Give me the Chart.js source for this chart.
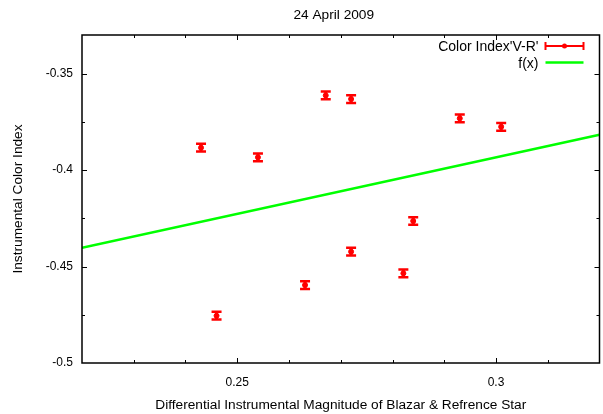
<!DOCTYPE html>
<html>
<head>
<meta charset="utf-8">
<script src="https://cdn.jsdelivr.net/npm/chart.js@4"></script>
<style>
  html, body { margin: 0; padding: 0; background: #fff; }
</style>
</head>
<body>
<canvas id="colorChart" width="603" height="414"></canvas>
<script>
const magnitude = [0.243, 0.254, 0.246, 0.2631, 0.2671, 0.272, 0.272, 0.2821, 0.284, 0.293, 0.301];
const colorIndex = [-0.3884, -0.3934, -0.4755, -0.4596, -0.3613, -0.3632, -0.4423, -0.4535, -0.4264, -0.3732, -0.3776];
const colorErr = [0.002, 0.002, 0.002, 0.002, 0.002, 0.002, 0.002, 0.002, 0.002, 0.002, 0.002];
const fitX = [0.22, 0.32];
const fitY = [-0.4403, -0.3817];
const legendLabels = ["Color Index'V-R'", 'f(x)'];
const chartTitle = '24 April 2009';

const FONT = '"Liberation Sans", Arial, sans-serif';
const ctx = document.getElementById('colorChart').getContext('2d');

function isMajor(v) {
    return Math.round(v * 1000) % 50 === 0;
}

// error bars in gnuplot style
const errorBars = {
    id: 'errorBars',
    afterDatasetsDraw(chart) {
        const {ctx, scales: {x, y}} = chart;
        ctx.save();
        ctx.strokeStyle = '#ff0000';
        colorIndex.forEach((v, i) => {
            const px = x.getPixelForValue(magnitude[i]);
            const top = y.getPixelForValue(v + colorErr[i]);
            const bot = y.getPixelForValue(v - colorErr[i]);
            ctx.lineWidth = 3;
            ctx.beginPath();
            ctx.moveTo(px, top);
            ctx.lineTo(px, bot);
            ctx.stroke();
            ctx.lineWidth = 2.5;
            ctx.beginPath();
            ctx.moveTo(px - 5, top);
            ctx.lineTo(px + 5, top);
            ctx.moveTo(px - 5, bot);
            ctx.lineTo(px + 5, bot);
            ctx.stroke();
        });
        ctx.restore();
    }
};

// border, inward ticks, title and key
const frame = {
    id: 'frame',
    afterDraw(chart) {
        const {ctx, chartArea: a, scales: {x, y}} = chart;
        ctx.save();
        ctx.strokeStyle = '#000';
        ctx.lineWidth = 1.5;
        ctx.strokeRect(a.left, a.top, a.right - a.left, a.bottom - a.top);

        ctx.lineWidth = 1;
        ctx.beginPath();
        x.ticks.forEach(t => {
            const px = Math.round(x.getPixelForValue(t.value)) + 0.5;
            if (px <= a.left + 2 || px >= a.right - 2) return;
            const len = isMajor(t.value) ? 5 : 3;
            ctx.moveTo(px, a.bottom);
            ctx.lineTo(px, a.bottom - len);
            ctx.moveTo(px, a.top);
            ctx.lineTo(px, a.top + len);
        });
        y.ticks.forEach(t => {
            const py = Math.round(y.getPixelForValue(t.value)) + 0.5;
            if (py <= a.top + 2 || py >= a.bottom - 2) return;
            const len = isMajor(t.value) ? 5 : 3;
            ctx.moveTo(a.left, py);
            ctx.lineTo(a.left + len, py);
            ctx.moveTo(a.right, py);
            ctx.lineTo(a.right - len, py);
        });
        ctx.stroke();

        ctx.fillStyle = '#000';
        ctx.font = '13.7px ' + FONT;
        ctx.textAlign = 'center';
        ctx.textBaseline = 'middle';
        ctx.fillText(chartTitle, (a.left + a.right) / 2 - 7, 15);

        // key
        ctx.font = '14px ' + FONT;
        ctx.textAlign = 'right';
        const kx = a.right - 61;
        const s0 = a.right - 54, s1 = a.right - 16;
        ctx.fillText(legendLabels[0], kx, 47);
        ctx.fillText(legendLabels[1], kx, 64);

        ctx.strokeStyle = '#ff0000';
        ctx.lineWidth = 2;
        ctx.beginPath();
        ctx.moveTo(s0, 46);
        ctx.lineTo(s1, 46);
        ctx.moveTo(s0, 42);
        ctx.lineTo(s0, 50);
        ctx.moveTo(s1, 42);
        ctx.lineTo(s1, 50);
        ctx.stroke();
        ctx.fillStyle = '#ff0000';
        ctx.beginPath();
        ctx.arc((s0 + s1) / 2, 46, 2.5, 0, Math.PI * 2);
        ctx.fill();

        ctx.strokeStyle = '#00ff00';
        ctx.lineWidth = 2.5;
        ctx.beginPath();
        ctx.moveTo(s0, 62.5);
        ctx.lineTo(s1, 62.5);
        ctx.stroke();
        ctx.restore();
    }
};

const chart = new Chart(ctx, {
    type: 'scatter',
    data: {
        datasets: [{
            label: legendLabels[0],
            data: magnitude.map((m, i) => ({x: m, y: colorIndex[i]})),
            backgroundColor: '#ff0000',
            borderColor: '#ff0000',
            pointRadius: 2.5,
            pointHoverRadius: 2.5
        }, {
            type: 'line',
            label: legendLabels[1],
            data: fitX.map((m, i) => ({x: m, y: fitY[i]})),
            borderColor: '#00ff00',
            borderWidth: 2.5,
            pointRadius: 0,
            fill: false
        }]
    },
    options: {
        responsive: false,
        animation: false,
        events: [],
        layout: { padding: { top: 35, right: 1, left: 0, bottom: 0 } },
        plugins: {
            legend: { display: false },
            title: { display: false },
            tooltip: { enabled: false }
        },
        scales: {
            x: {
                type: 'linear',
                min: 0.22,
                max: 0.32,
                bounds: 'data',
                grid: { display: false, drawTicks: false },
                border: { display: false },
                ticks: {
                    stepSize: 0.01,
                    includeBounds: false,
                    autoSkip: false,
                    maxRotation: 0,
                    padding: 12,
                    color: '#000',
                    font: { family: FONT, size: 12 },
                    callback: v => isMajor(v) ? String(Math.round(v * 100) / 100) : ''
                },
                title: {
                    display: true,
                    text: 'Differential Instrumental Magnitude of Blazar & Refrence Star',
                    color: '#000',
                    font: { family: FONT, size: 13.7 },
                    padding: { top: 0, bottom: 0.5 }
                },
                afterFit(scale) {
                    scale.height = 51;
                    scale.paddingLeft = 0;
                    scale.paddingRight = 0;
                }
            },
            y: {
                type: 'linear',
                min: -0.5,
                max: -0.33,
                bounds: 'data',
                grid: { display: false, drawTicks: false },
                border: { display: false },
                ticks: {
                    stepSize: 0.025,
                    includeBounds: false,
                    autoSkip: false,
                    padding: 9,
                    color: '#000',
                    font: { family: FONT, size: 12 },
                    callback: v => isMajor(v) ? String(Math.round(v * 100) / 100) : ''
                },
                title: {
                    display: true,
                    text: 'Instrumental Color Index',
                    color: '#000',
                    font: { family: FONT, size: 13.7 },
                    padding: { top: 10, bottom: 0 }
                },
                afterFit(scale) {
                    scale.width = 82;
                    scale.paddingTop = 0;
                    scale.paddingBottom = 0;
                }
            }
        }
    },
    plugins: [errorBars, frame]
});
</script>
</body>
</html>
